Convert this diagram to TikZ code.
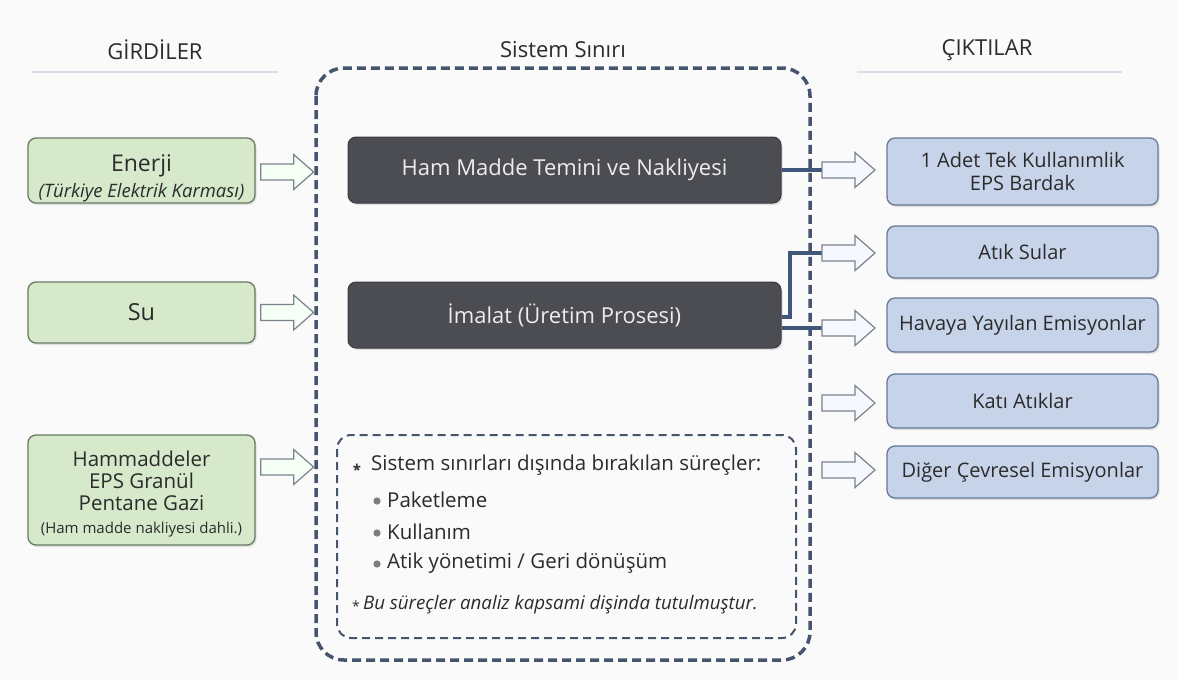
\documentclass[tikz,border=0pt]{standalone}
\usepackage{fontspec}
\setmainfont{Open Sans}
\usetikzlibrary{calc,shadows}
\definecolor{bgc}{RGB}{250,250,250}
\definecolor{txt}{RGB}{43,43,43}
\definecolor{gfill}{RGB}{214,233,203}
\definecolor{gline}{RGB}{104,122,100}
\definecolor{dfill}{RGB}{75,77,82}
\definecolor{dline}{RGB}{58,60,64}
\definecolor{bfill}{RGB}{198,211,233}
\definecolor{bline}{RGB}{104,120,150}
\definecolor{bound}{RGB}{69,85,110}
\definecolor{conn}{RGB}{64,86,122}
\definecolor{aline}{RGB}{122,132,140}
\definecolor{rule}{RGB}{214,224,234}
\definecolor{dot}{RGB}{125,125,125}
\newcommand\setsz[1]{\fontsize{#1}{\fpeval{1.22*#1}}\selectfont}
\tikzset{
  sz/.style={font=\setsz{#1}},
  shade/.style={drop shadow={opacity=0.22,shadow xshift=1.5pt,shadow yshift=-2pt}},
  inbox/.style={draw=gline,line width=1.3pt,fill=gfill,rounded corners=8pt,shade,
    text=txt,align=center,sz=23.5,inner sep=0pt,minimum width=227},
  intext/.style={text=txt,anchor=base,inner sep=0pt,sz=#1},
  procbox/.style={draw=dline,line width=1pt,fill=dfill,rounded corners=8pt,shade,
    text=white!93!black,align=center,sz=22,inner sep=0pt,minimum width=433,minimum height=66},
  outbox/.style={draw=bline,line width=1.3pt,fill=bfill,rounded corners=8pt,shade,
    text=txt,align=center,sz=20,inner sep=0pt,minimum width=271},
  heading/.style={text=txt,sz=22},
  boundary/.style={draw=bound,line width=3.5pt,dash pattern=on 9pt off 5pt,rounded corners=28pt},
  innerbound/.style={draw=bound,line width=2pt,dash pattern=on 8pt off 5pt,rounded corners=14pt},
  link/.style={draw=conn,line width=4pt},
  inarrow/.style={draw=aline,line width=1.2pt,fill=green!4!white,line join=miter},
  outarrow/.style={draw=aline,line width=1.2pt,fill=blue!3!white,line join=miter},
  note/.style={text=txt,anchor=west,inner sep=0pt,sz=20.5},
  pics/blockarrow/.style={code={
    \path[#1] (0,-8) -- (33,-8) -- (33,-17.5) -- (53,0) -- (33,17.5) -- (33,8) -- (0,8) -- cycle;}}
}
\begin{document}
\begin{tikzpicture}[x=1pt,y=-1pt]
\useasboundingbox (0,0) rectangle (1177,680);
\fill[bgc] (0,0) rectangle (1177,680);

% column headings
\node[heading] (hin) at (155,50) {GİRDİLER};
\node[heading] (hsys) at (563,50) {Sistem Sınırı};
\node[heading] (hout) at (987,50) {ÇIKTILAR};
\draw[rule,line width=1.2pt] (32,72) -- (278,72);
\draw[rule,line width=1.2pt] (857,72) -- (1122,72);

% system boundary
\path[boundary] (316,68) rectangle (810,660);

% inputs
\node[inbox,minimum height=65] (en) at (141.5,170.5) {};
\node[intext=23] (enT) at (141.5,171) {Enerji};
\node[intext=18.5] (enS) at (141.5,197) {\itshape (Türkiye Elektrik Karması)};
\node[inbox,minimum height=61] (su) at (141.5,312.5) {Su};
\node[inbox,minimum height=110] (hm) at (141.5,490) {};
\node[intext=20.5] (hm1) at (141.5,466) {Hammaddeler};
\node[intext=20.5] (hm2) at (141.5,488) {EPS Granül};
\node[intext=20.5] (hm3) at (141.5,510) {Pentane Gazi};
\node[intext=15] (hm4) at (141.5,533) {(Ham madde nakliyesi dahli.)};

% input arrows into the boundary
\coordinate (ai1) at ($(en.east)+(5,1.5)$);
\coordinate (ai2) at ($(su.east)+(5,0)$);
\coordinate (ai3) at ($(hm.east)+(5,-23)$);
\pic at (ai1) {blockarrow=inarrow};
\pic at (ai2) {blockarrow=inarrow};
\pic at (ai3) {blockarrow=inarrow};

% processes
\node[procbox] (hmt) at (564.5,170) {Ham Madde Temini ve Nakliyesi};
\node[procbox] (ima) at (564.5,315) {İmalat (Üretim Prosesi)};

% outputs
\node[outbox,minimum height=67] (o1) at (1022.5,171.5) {1 Adet Tek Kullanımlik\\[-2pt]EPS Bardak};
\node[outbox,minimum height=52] (o2) at (1022.5,252) {Atık Sular};
\node[outbox,minimum height=54] (o3) at (1022.5,325) {Havaya Yayılan Emisyonlar};
\node[outbox,minimum height=54] (o4) at (1022.5,401) {Katı Atıklar};
\node[outbox,minimum height=52] (o5) at (1022.5,472) {Diğer Çevresel Emisyonlar};

\coordinate (ao1) at (822,170);
\coordinate (ao2) at (822,253);
\coordinate (ao3) at (822,328);
\coordinate (ao4) at (822,403);
\coordinate (ao5) at (822,470);

% process connectors
\draw[link] (hmt.east) -- (ao1);
\draw[link] ($(ima.east)+(0,2)$) -- ++(8,0) |- (ao2);
\draw[link] (ima.east |- ao3) -- (ao3);

\pic at (ao1) {blockarrow=outarrow};
\pic at (ao2) {blockarrow=outarrow};
\pic at (ao3) {blockarrow=outarrow};
\pic at (ao4) {blockarrow=outarrow};
\pic at (ao5) {blockarrow=outarrow};

% processes left outside the boundary
\path[innerbound] (337,435) rectangle (796,638);
\node[intext=15,font=\setsz{15}\bfseries] (ast) at (357,475) {*};
\node[note] (ex) at (371,465) {Sistem sınırları dışında bırakılan süreçler:};
\fill[dot] (377,501) circle (3.6) coordinate (b1);
\fill[dot] (377,533) circle (3.6) coordinate (b2);
\fill[dot] (377,564) circle (3.6) coordinate (b3);
\node[note] (p1) at (387,500) {Paketleme};
\node[note] (p2) at (387,532) {Kullanım};
\node[note] (p3) at (387,563) {Atik yönetimi / Geri dönüşüm};
\node[note,sz=18.7] (fn) at (352,605) {{\setsz{14}\raisebox{-1.5pt}{*}}\,\itshape Bu süreçler analiz kapsami dişinda tutulmuştur.};
\end{tikzpicture}
\end{document}
